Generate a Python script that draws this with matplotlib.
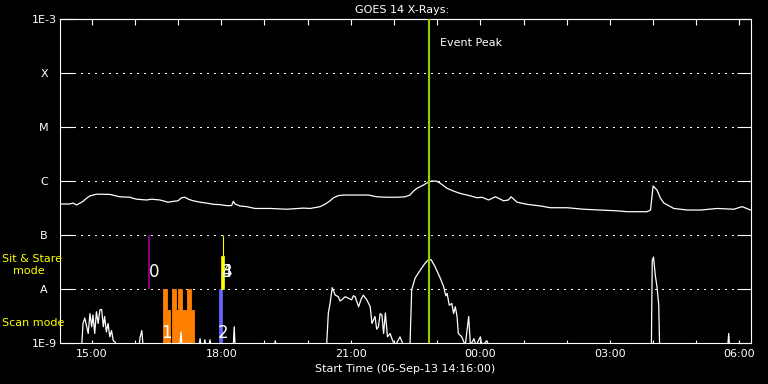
import matplotlib
matplotlib.use("Agg")
import matplotlib.pyplot as plt
from matplotlib.ticker import FixedLocator, NullFormatter, NullLocator

# ---------------- data (hours of day; >24 = next day) ----------------
t_start = 14.0 + 16.0 / 60.0          # 14:16
t_end = t_start + 16.0                # 06:16 next day

level_values = [1e-9, 1e-8, 1e-7, 1e-6, 1e-5, 1e-4, 1e-3]
level_labels = ["1E-9", "A", "B", "C", "M", "X", "1E-3"]
grid_levels = [1e-8, 1e-7, 1e-6, 1e-5, 1e-4]

xtick_hours = [15, 18, 21, 24, 27, 30]
xtick_labels = ["15:00", "18:00", "21:00", "00:00", "03:00", "06:00"]
minor_hours = list(range(15, 31))

# GOES 1-8 A
long_time = [14.27, 14.49, 14.57, 14.65, 14.73, 14.80, 14.88, 14.96, 15.11, 15.42,
             15.65, 15.88, 16.04, 16.27, 16.39, 16.58, 16.77, 16.89, 17.00, 17.08,
             17.16, 17.24, 17.35, 17.51, 17.66, 17.82, 17.97, 18.13, 18.24, 18.28,
             18.32, 18.43, 18.59, 18.78, 19.13, 19.52, 19.90, 20.06, 20.29, 20.40,
             20.52, 20.60, 20.71, 20.83, 21.41, 21.60, 21.83, 22.07, 22.26, 22.37,
             22.45, 22.53, 22.68, 22.80, 22.88, 22.99, 23.07, 23.23, 23.38, 23.53,
             23.77, 23.92, 24.04, 24.19, 24.35, 24.54, 24.65, 24.71, 24.85, 25.08,
             25.39, 25.62, 26.01, 26.39, 26.78, 27.17, 27.40, 27.86, 27.94, 28.00,
             28.09, 28.17, 28.25, 28.48, 28.79, 29.10, 29.48, 29.87, 30.06, 30.26]
long_flux = [3.75e-7, 3.75e-7, 3.9e-7, 3.6e-7, 3.9e-7, 4.2e-7, 4.8e-7, 5.3e-7, 5.7e-7, 5.65e-7,
             5.1e-7, 5.0e-7, 4.6e-7, 4.45e-7, 4.6e-7, 4.45e-7, 4.05e-7, 4.2e-7, 4.3e-7, 4.9e-7,
             5.0e-7, 4.6e-7, 4.3e-7, 4.05e-7, 3.9e-7, 3.7e-7, 3.65e-7, 3.5e-7, 3.5e-7, 4.2e-7,
             3.75e-7, 3.45e-7, 3.35e-7, 3.1e-7, 3.1e-7, 3.0e-7, 3.15e-7, 3.1e-7, 3.35e-7, 3.7e-7,
             4.3e-7, 4.9e-7, 5.35e-7, 5.5e-7, 5.5e-7, 5.1e-7, 5.0e-7, 5.0e-7, 5.1e-7, 5.5e-7,
             6.5e-7, 7.3e-7, 8.4e-7, 9.6e-7, 1.0e-6, 9.9e-7, 9.1e-7, 7.3e-7, 6.5e-7, 5.9e-7,
             5.3e-7, 4.9e-7, 5.0e-7, 4.45e-7, 5.1e-7, 4.3e-7, 4.45e-7, 5.1e-7, 4.05e-7, 3.7e-7,
             3.45e-7, 3.2e-7, 3.2e-7, 3.0e-7, 2.9e-7, 2.8e-7, 2.7e-7, 2.7e-7, 2.9e-7, 8.1e-7,
             6.8e-7, 4.8e-7, 3.9e-7, 3.1e-7, 2.9e-7, 2.9e-7, 3.1e-7, 3.0e-7, 3.35e-7, 2.9e-7]

# GOES 0.5-4 A
short_time = [14.27, 14.77, 14.80, 14.84, 14.92, 14.96, 15.00, 15.03, 15.07, 15.11,
              15.15, 15.19, 15.23, 15.27, 15.30, 15.34, 15.38, 15.42, 15.46, 15.50,
              15.54, 15.58, 16.10, 16.12, 16.16, 16.19, 17.04, 17.07, 17.09, 17.49,
              17.51, 17.53, 17.60, 17.62, 17.64, 17.72, 17.74, 17.76, 18.28, 18.30,
              18.32, 19.23, 19.25, 19.27, 20.44, 20.48, 20.52, 20.57, 20.64, 20.71,
              20.75, 20.79, 20.87, 20.95, 21.02, 21.06, 21.10, 21.18, 21.24, 21.29,
              21.37, 21.45, 21.49, 21.56, 21.60, 21.64, 21.68, 21.72, 21.76, 21.80,
              21.85, 21.91, 21.97, 22.03, 22.14, 22.22, 22.37, 22.41, 22.49, 22.61,
              22.72, 22.80, 22.86, 22.95, 23.07, 23.15, 23.20, 23.23, 23.28, 23.34,
              23.38, 23.42, 23.46, 23.49, 23.57, 23.65, 23.73, 23.77, 23.85, 23.90,
              24.00, 24.04, 24.15, 24.20, 27.96, 27.98, 28.01, 28.05, 28.09, 28.13,
              28.15, 29.73, 29.75, 29.77, 30.27]
short_flux = [9e-10, 9e-10, 2.3e-9, 2.9e-9, 1.5e-9, 3.5e-9, 2.0e-9, 3.3e-9, 1.5e-9, 3.8e-9,
              2.3e-9, 4.1e-9, 4.2e-9, 2.0e-9, 3.1e-9, 1.6e-9, 2.3e-9, 1.3e-9, 1.7e-9, 1.1e-9,
              1.05e-9, 9e-10, 9e-10, 1.25e-9, 1.7e-9, 9e-10, 9e-10, 1.6e-9, 9e-10, 9e-10,
              1.2e-9, 9e-10, 9e-10, 1.15e-9, 9e-10, 9e-10, 1.15e-9, 9e-10, 9e-10, 2.0e-9,
              9e-10, 9e-10, 1.1e-9, 9e-10, 9e-10, 3.6e-9, 5.4e-9, 1.06e-8, 7.7e-9, 7.2e-9,
              6.0e-9, 6.3e-9, 7.2e-9, 6.7e-9, 6.3e-9, 7.5e-9, 7.2e-9, 4.7e-9, 6.5e-9, 7.7e-9,
              6.3e-9, 4.7e-9, 2.3e-9, 3.1e-9, 1.8e-9, 2.0e-9, 3.5e-9, 3.3e-9, 1.5e-9, 3.6e-9,
              1.3e-9, 1.5e-9, 1.1e-9, 9e-10, 1.3e-9, 9e-10, 9e-10, 9.6e-9, 1.6e-8, 2.25e-8,
              3.0e-8, 3.5e-8, 3.5e-8, 2.6e-8, 1.6e-8, 1.1e-8, 7.5e-9, 8.3e-9, 5.0e-9, 5.4e-9,
              3.5e-9, 4.7e-9, 3.1e-9, 1.5e-9, 1.3e-9, 9e-10, 3.1e-9, 9e-10, 1.2e-9, 9e-10,
              1.3e-9, 9e-10, 1.1e-9, 9e-10, 9e-10, 3.4e-8, 3.9e-8, 1.8e-8, 1.1e-8, 5.1e-9,
              9e-10, 9e-10, 1.5e-9, 9e-10, 9e-10]

event_peak = 22.80

# IRIS observation bars
scan_start = [16.65, 16.74, 16.86, 16.95, 17.00, 17.09, 17.21, 17.30]
scan_end = [16.74, 16.81, 16.95, 17.00, 17.09, 17.21, 17.30, 17.37]
scan_top = [1e-8, 4e-9, 1e-8, 4e-9, 1e-8, 4e-9, 1e-8, 4e-9]
scan2_start, scan2_end, scan2_top = 17.95, 18.02, 1e-8
sns_start, sns_end, sns_top = 17.99, 18.06, 4.1e-8
sns_line_time = 18.04
obs0_time = 16.33

obs_labels = ["0", "1", "2", "3", "4"]
obs_label_time = [16.45, 16.74, 18.04, 18.13, 18.13]
obs_label_flux = [2.07e-8, 1.5e-9, 1.5e-9, 2.07e-8, 2.07e-8]

# ---------------- plot ----------------
W, H = 768, 384
fig = plt.figure(figsize=(W / 100, H / 100), dpi=100, facecolor="black")
ax = fig.add_axes([60 / W, 41 / H, 691 / W, 324 / H])
ax.set_facecolor("black")
ax.set_yscale("log")
ax.set_ylim(1e-9, 1e-3)
ax.set_xlim(t_start, t_end)

for s in ax.spines.values():
    s.set_color("white")
    s.set_linewidth(0.8)

for lvl in grid_levels:
    ax.axhline(lvl, color="white", lw=0.8, ls=(0, (1, 5)), zorder=1, antialiased=False)

# y axis
ax.yaxis.set_major_locator(FixedLocator(level_values))
ax.yaxis.set_minor_locator(NullLocator())
ax.set_yticklabels(level_labels)
ax.tick_params(axis="y", which="major", direction="in", length=10, width=0.8,
               colors="white", left=True, right=True, pad=11.5, labelsize=8)
for lab in ax.get_yticklabels():
    lab.set_horizontalalignment("center")

# x axis
ax.xaxis.set_major_locator(FixedLocator(xtick_hours))
ax.xaxis.set_minor_locator(FixedLocator(minor_hours))
ax.set_xticklabels(xtick_labels)
ax.tick_params(axis="x", which="both", direction="in", length=2.5, width=0.8,
               colors="white", top=False, bottom=True, pad=4, labelsize=8)
sec = ax.secondary_xaxis("top")
sec.xaxis.set_major_locator(FixedLocator(minor_hours))
sec.xaxis.set_major_formatter(NullFormatter())
sec.tick_params(direction="in", length=4.6, width=0.8, colors="white")
sec.spines["top"].set_color("white")
sec.spines["top"].set_linewidth(0.8)

# curves
ax.plot(long_time, long_flux, color="white", lw=0.9, zorder=3)
ax.plot(short_time, short_flux, color="white", lw=0.9, zorder=3)

# observation bars
for s0, s1, top in zip(scan_start, scan_end, scan_top):
    ax.bar(x=s0, height=top - 1e-9, width=s1 - s0, bottom=1e-9, align="edge",
           color="#ff8000", edgecolor="#ff8000", linewidth=0.6, zorder=2)
ax.bar(x=scan2_start, height=scan2_top - 1e-9, width=scan2_end - scan2_start, bottom=1e-9,
       align="edge", color="#6666ff", edgecolor="#6666ff", linewidth=0.5, zorder=2)
ax.bar(x=sns_start, height=sns_top - 1e-8, width=sns_end - sns_start, bottom=1e-8,
       align="edge", color="#ffff00", edgecolor="#ffff00", linewidth=0.5, zorder=2)
ax.vlines(sns_line_time, sns_top, 1e-7, color="#ffff00", lw=0.8, zorder=2)
ax.vlines(obs0_time, 1e-8, 1e-7, color="#b000b0", lw=1.1, zorder=2)

for lab, tt, ff in zip(obs_labels, obs_label_time, obs_label_flux):
    ax.text(tt, ff, lab, color="white", fontsize=12, ha="center", va="center", zorder=4)

# event peak
ax.axvline(event_peak, color="#9acd00", lw=1.5, zorder=5)
ax.annotate("Event Peak", xy=(event_peak, 0.926), xycoords=("data", "axes fraction"),
            xytext=(8, 0), textcoords="offset points", color="white", fontsize=8,
            ha="left", va="center")

# texts
fig.text(402 / W, 1 - 10 / H, "GOES 14 X-Rays:", color="white", fontsize=8,
         ha="center", va="center")
fig.text(405 / W, 1 - 368.5 / H, "Start Time (06-Sep-13 14:16:00)", color="white",
         fontsize=8, ha="center", va="center")
fig.text(2 / W, 1 - 259 / H, "Sit & Stare", color="#ffff00", fontsize=8,
         ha="left", va="center")
fig.text(13 / W, 1 - 271 / H, "mode", color="#ffff00", fontsize=8,
         ha="left", va="center")
fig.text(2 / W, 1 - 323.5 / H, "Scan mode", color="#ffff00", fontsize=8,
         ha="left", va="center")

fig.savefig("out.png", dpi=100, facecolor="black")
